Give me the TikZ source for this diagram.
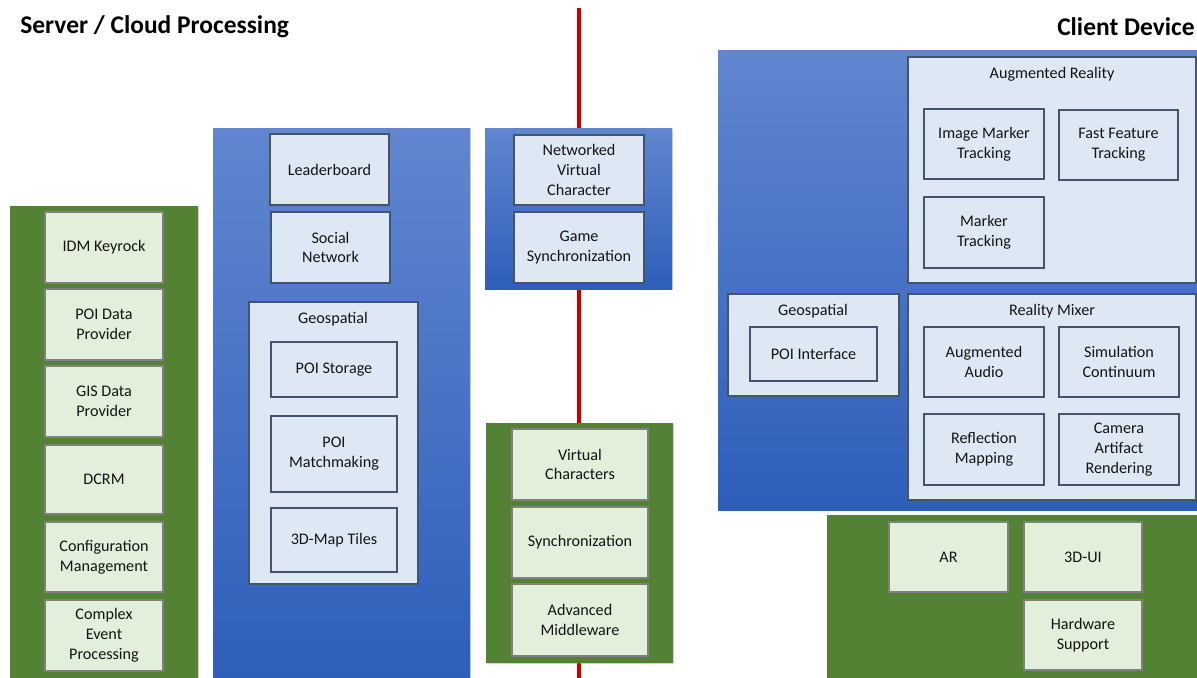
\documentclass[tikz,border=0pt]{standalone}
\usepackage{fontspec}
\setmainfont{Carlito}
\usetikzlibrary{shadows}

\definecolor{blauoben}{RGB}{97,134,207}
\definecolor{blauunten}{RGB}{46,94,186}
\definecolor{blauhell}{RGB}{222,232,244}
\definecolor{blaurand}{RGB}{68,84,106}
\definecolor{gruen}{RGB}{84,130,53}
\definecolor{gruenhell}{RGB}{226,239,218}
\definecolor{gruenrand}{RGB}{128,128,128}
\definecolor{linienrot}{RGB}{200,0,0}
\definecolor{schrift}{RGB}{20,20,20}

\begin{document}
\begin{tikzpicture}[x=0.02cm,y=-0.02cm,
	schatten/.style={drop shadow={shadow xshift=0.7pt,shadow yshift=-0.7pt,opacity=0.35}},
	blaupanel/.style={schatten,top color=blauoben,bottom color=blauunten,draw=none},
	gruenpanel/.style={schatten,fill=gruen,draw=none},
	blaubox/.style={fill=blauhell,draw=blaurand,line width=0.9pt,align=center,text=schrift,
		font=\fontsize{9.2}{11.3}\selectfont},
	gruenbox/.style={fill=gruenhell,draw=gruenrand,line width=1.1pt,align=center,text=schrift,
		font=\fontsize{9.2}{11.3}\selectfont},
	titel/.style={font=\fontsize{9.2}{11.3}\selectfont,text=schrift,inner sep=0pt},
	kopf/.style={font=\bfseries\fontsize{14.5}{16}\selectfont,inner sep=0pt}]
\def\ds{0.02cm}
\def\kasten#1#2#3#4#5#6#7{
	\node[#1,inner sep=0pt,minimum width={(#5-#3)*\ds},minimum height={(#6-#4)*\ds}]
		(#2) at ({(#3+#5)/2},{(#4+#6)/2}) {#7};
}
\useasboundingbox (0,0) rectangle (1197,677);
\clip (0,0) rectangle (1197,677);

% Kopfzeilen
\node[kopf,anchor=west] (server) at (20,27) {Server / Cloud Processing};
\node[kopf,anchor=east] (client) at (1195,27) {Client Device};

% Trennlinie
\coordinate (oben) at (579,8);
\coordinate (unten) at (579,680);
\draw[linienrot,line width=1.8pt] (oben) -- (unten);

% Server links
\kasten{gruenpanel}{basis}{10}{206}{198}{690}{}
\foreach \ya/\yb/\n/\t in {212/283/idm/{IDM Keyrock},289/360/poidaten/{POI Data\\Provider},
	366/437/gisdaten/{GIS Data\\Provider},445/514/dcrm/{DCRM},
	522/592/konfig/{Configuration\\Management},600/671/cep/{Complex\\Event\\Processing}}{
	\kasten{gruenbox}{\n}{45}{\ya}{163}{\yb}{\t}
}

\kasten{blaupanel}{spiel}{213}{128}{470}{690}{}
\kasten{blaubox}{leader}{270}{134}{389}{205}{Leaderboard}
\kasten{blaubox}{sozial}{271}{212}{390}{283}{Social\\Network}
\kasten{blaubox}{geo}{249}{302}{418}{584}{}
\node[titel] (geotitel) at (333,319) {Geospatial};
\kasten{blaubox}{poispeicher}{271}{342}{397}{397}{POI Storage}
\kasten{blaubox}{poimatch}{271}{416}{397}{492}{POI\\Matchmaking}
\kasten{blaubox}{kacheln}{271}{508}{397}{572}{3D-Map Tiles}

\kasten{blaupanel}{netz}{485}{128}{672}{289}{}
\kasten{blaubox}{netzfigur}{514}{135}{644}{205}{Networked\\Virtual\\Character}
\kasten{blaubox}{spielsync}{514}{212}{644}{283}{Game\\Synchronization}

\kasten{gruenpanel}{mitte}{486}{423}{673}{663}{}
\foreach \ya/\yb/\n/\t in {429/500/figuren/{Virtual\\Characters},507/578/sync/{Synchronization},
	584/656/middleware/{Advanced\\Middleware}}{
	\kasten{gruenbox}{\n}{512}{\ya}{648}{\yb}{\t}
}

% Client rechts
\kasten{blaupanel}{geraet}{718}{50}{1210}{510}{}
\kasten{blaubox}{ar}{908}{57}{1196}{283}{}
\node[titel] (artitel) at (1052,74) {Augmented Reality};
\kasten{blaubox}{bildmarker}{924}{109}{1044}{179}{Image Marker\\Tracking}
\kasten{blaubox}{feature}{1059}{110}{1178}{180}{Fast Feature\\Tracking}
\kasten{blaubox}{marker}{924}{197}{1044}{268}{Marker\\Tracking}

\kasten{blaubox}{geoclient}{728}{294}{899}{396}{}
\node[titel] (geoclienttitel) at (813,311) {Geospatial};
\kasten{blaubox}{poischnitt}{750}{327}{877}{381}{POI Interface}

\kasten{blaubox}{mixer}{908}{294}{1196}{500}{}
\node[titel] (mixertitel) at (1052,311) {Reality Mixer};
\kasten{blaubox}{audio}{924}{327}{1044}{397}{Augmented\\Audio}
\kasten{blaubox}{simulation}{1059}{327}{1179}{397}{Simulation\\Continuum}
\kasten{blaubox}{reflexion}{924}{414}{1044}{485}{Reflection\\Mapping}
\kasten{blaubox}{kamera}{1059}{414}{1179}{485}{Camera\\Artifact\\Rendering}

\kasten{gruenpanel}{plattform}{827}{515}{1210}{690}{}
\kasten{gruenbox}{arbasis}{889}{522}{1008}{592}{AR}
\kasten{gruenbox}{ui}{1024}{522}{1142}{592}{3D-UI}
\kasten{gruenbox}{hardware}{1024}{600}{1142}{670}{Hardware\\Support}
\end{tikzpicture}
\end{document}
